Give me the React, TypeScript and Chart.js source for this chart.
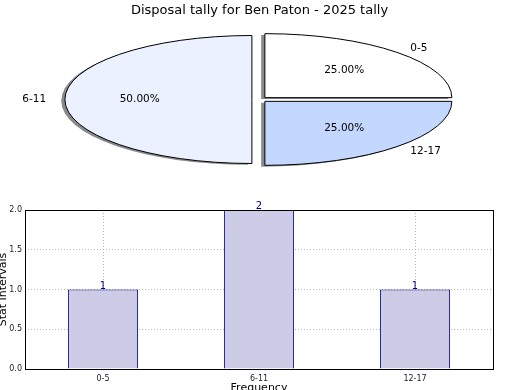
import React, { useEffect, useRef } from "react";
import { Chart, registerables } from "chart.js";

Chart.register(...registerables);

// ---- data ----
const categories = ["0-5", "6-11", "12-17"];
const counts = [1, 2, 1];
const pieColors = ["#FFFFFF", "#EBF1FE", "#C4D8FF"];
const yTicks = [0, 0.5, 1.0, 1.5, 2.0];
const titleText = "Disposal tally for Ben Paton - 2025 tally";
const xTitle = "Frequency";
const yTitle = "Stat Intervals";

const FONT = "'DejaVu Sans', sans-serif";
const PIE_R = 64;
const SX = 187 / 64;
const EXPLODE = 2.6;

const pieShapePlugin = {
  id: "pieShape",
  beforeDatasetsDraw(chart: any) {
    const ctx = chart.ctx;
    const arcs = chart.getDatasetMeta(0).data;
    if (!arcs.length) return;
    const cx = arcs[0].x;
    const cy = arcs[0].y;
    arcs.forEach((el: any) => {
      if (el.__wrapped) return;
      const orig = el.draw;
      el.draw = function (c: any, area: any) {
        const mid = (this.startAngle + this.endAngle) / 2;
        c.save();
        c.shadowColor = "rgba(60,60,60,0.6)";
        c.shadowOffsetX = -3.7;
        c.shadowOffsetY = 1.3;
        c.shadowBlur = 0;
        c.translate(Math.cos(mid) * EXPLODE, Math.sin(mid) * EXPLODE);
        orig.call(this, c, area);
        c.restore();
      };
      el.__wrapped = true;
    });
    ctx.save();
    ctx.translate(cx, cy);
    ctx.scale(SX, -1);
    ctx.translate(-cx, -cy);
    const protoStroke = CanvasRenderingContext2D.prototype.stroke;
    ctx.stroke = function (...args: any[]) {
      this.save();
      this.setTransform(1, 0, 0, 1, 0, 0);
      this.shadowColor = "rgba(0,0,0,0)";
      protoStroke.apply(this, args as any);
      this.restore();
    };
  },
  afterDatasetsDraw(chart: any) {
    const ctx = chart.ctx;
    delete ctx.stroke;
    ctx.restore();
  },
  afterDraw(chart: any) {
    const ctx = chart.ctx;
    const arcs = chart.getDatasetMeta(0).data;
    if (!arcs.length) return;
    const cx = arcs[0].x;
    const cy = arcs[0].y;
    const total = counts.reduce((a, b) => a + b, 0);
    ctx.save();
    ctx.fillStyle = "#000";
    ctx.font = `10.5px ${FONT}`;
    ctx.textBaseline = "middle";
    arcs.forEach((el: any, i: number) => {
      const mid = (el.startAngle + el.endAngle) / 2;
      const pt = (k: number) => {
        const d = k * PIE_R + EXPLODE;
        const px = cx + d * Math.cos(mid);
        const py = cy + d * Math.sin(mid);
        return { x: cx + (px - cx) * SX, y: cy - (py - cy) };
      };
      const lp = pt(1.1);
      ctx.textAlign = Math.cos(mid) > 0 ? "left" : "right";
      ctx.fillText(categories[i], lp.x, lp.y);
      const pp = pt(0.6);
      ctx.textAlign = "center";
      ctx.fillText(((counts[i] / total) * 100).toFixed(2) + "%", pp.x, pp.y);
    });
    ctx.restore();
  },
};

const framePlugin = {
  id: "frame",
  afterDraw(chart: any) {
    const { ctx, chartArea } = chart;
    ctx.save();
    ctx.strokeStyle = "#000";
    ctx.lineWidth = 1;
    const l = Math.round(chartArea.left) + 0.5;
    const t = Math.round(chartArea.top) + 0.5;
    const r = Math.round(chartArea.right) + 0.5;
    const b = Math.round(chartArea.bottom) + 0.5;
    ctx.strokeRect(l, t, r - l, b - t);
    ctx.restore();
  },
};

const valueLabelPlugin = {
  id: "valueLabels",
  afterDraw(chart: any) {
    const ctx = chart.ctx;
    const bars = chart.getDatasetMeta(0).data;
    ctx.save();
    ctx.fillStyle = "#000080";
    ctx.font = `10px ${FONT}`;
    ctx.textAlign = "center";
    ctx.textBaseline = "alphabetic";
    bars.forEach((el: any, i: number) => {
      ctx.fillText(String(counts[i]), el.x, el.y - 1);
    });
    ctx.restore();
  },
};

export default function App() {
  const pieRef = useRef<HTMLCanvasElement>(null);
  const barRef = useRef<HTMLCanvasElement>(null);

  useEffect(() => {
    const pie = new Chart(pieRef.current as HTMLCanvasElement, {
      type: "pie",
      data: {
        labels: categories,
        datasets: [
          {
            data: counts,
            backgroundColor: pieColors,
            borderColor: "#000",
            borderWidth: 1,
            borderJoinStyle: "miter",
          } as any,
        ],
      },
      options: {
        animation: false,
        responsive: false,
        events: [],
        rotation: 90,
        radius: PIE_R,
        layout: { padding: { top: 0, bottom: 14.6, left: 0, right: 1 } },
        plugins: {
          legend: { display: false },
          tooltip: { enabled: false },
          title: {
            display: true,
            text: titleText,
            color: "#000",
            font: { family: FONT, size: 13, weight: "normal" },
            padding: { top: 3, bottom: 5 },
          },
        },
      } as any,
      plugins: [pieShapePlugin],
    });

    const bar = new Chart(barRef.current as HTMLCanvasElement, {
      type: "bar",
      data: {
        labels: categories,
        datasets: [
          {
            data: counts,
            backgroundColor: "#CCCCE6",
            borderColor: "#000080",
            borderWidth: 1,
            barPercentage: 0.45,
            categoryPercentage: 1,
          },
        ],
      },
      options: {
        animation: false,
        responsive: false,
        events: [],
        layout: { padding: { top: 20, right: 27, left: 0, bottom: 0 } },
        plugins: {
          legend: { display: false },
          tooltip: { enabled: false },
        },
        scales: {
          x: {
            z: 1,
            grid: { offset: false, color: "#BBBBBB", drawTicks: false, lineWidth: 1 },
            border: { display: false, dash: [1, 2] },
            ticks: { font: { family: FONT, size: 8 }, color: "#222", padding: 5 },
            title: {
              display: true,
              text: xTitle,
              color: "#000",
              font: { family: FONT, size: 11 },
              padding: 0,
            },
            afterFit(s: any) {
              s.height = 26;
            },
          },
          y: {
            z: 1,
            min: 0,
            max: 2,
            grid: { color: "#BBBBBB", drawTicks: false, lineWidth: 1 },
            border: { display: false, dash: [1, 2] },
            ticks: {
              font: { family: FONT, size: 8 },
              color: "#222",
              padding: 3,
              callback: (v: any) => Number(v).toFixed(1),
            },
            afterBuildTicks(s: any) {
              s.ticks = yTicks.map((v) => ({ value: v }));
            },
            title: {
              display: true,
              text: yTitle,
              color: "#000",
              font: { family: FONT, size: 11 },
              padding: 0,
            },
            afterFit(s: any) {
              s.width = 28;
            },
          },
        },
      } as any,
      plugins: [framePlugin, valueLabelPlugin],
    });

    return () => {
      pie.destroy();
      bar.destroy();
    };
  }, []);

  return (
    <div
      style={{
        position: "absolute",
        left: 0,
        top: 0,
        width: 520,
        height: 390,
        overflow: "hidden",
        background: "#fff",
      }}
    >
      <canvas
        ref={pieRef}
        width={520}
        height={190}
        style={{ position: "absolute", left: 0, top: 0, width: 520, height: 190 }}
      />
      <canvas
        ref={barRef}
        width={523}
        height={205}
        style={{ position: "absolute", left: -3, top: 190, width: 523, height: 205 }}
      />
    </div>
  );
}
